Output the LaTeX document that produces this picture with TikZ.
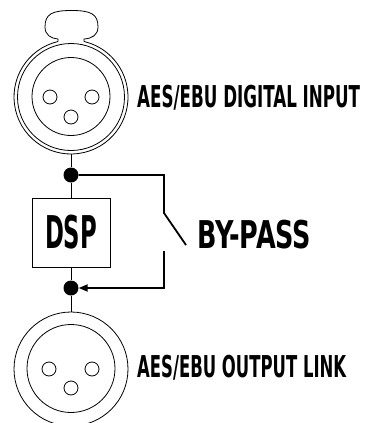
\documentclass[tikz,border=0pt]{standalone}
\usepackage{fontspec}
\usetikzlibrary{arrows.meta}
\newfontfamily\condfont{DejaVu Sans Condensed}
\newcommand{\heavy}[3]{\resizebox{#1}{\height}{\fontsize{#2}{#2}\selectfont #3}}
\begin{document}
\begin{tikzpicture}[x=1bp,y=-1bp,
  thinline/.style={line width=0.8bp},
  bypass/.style={line width=1.8bp},
  dot/.style={circle,fill=black,inner sep=0pt,minimum size=15bp},
  pin/.style={circle,draw,line width=0.8bp,inner sep=0pt,minimum size=14bp},
  ring/.style={circle,draw,line width=0.8bp,inner sep=0pt},
  lbl/.style={anchor=base west,inner sep=0pt,font=\condfont\bfseries}]
\useasboundingbox (0,0) rectangle (365,423);

% ---- input connector (XLR with latch)
\node[circle,inner sep=0pt,minimum size=114bp] (inC) at (71,97) {};
\draw[thinline] (58,41.5) arc[start angle=103.2, end angle=436.8, radius=57bp];
\draw[thinline] (58,41.5) -- (58,39)
  .. controls (51,38.5) and (45,35) .. (45,27)
  .. controls (45,14) and (52,10.5) .. (71.5,10.5)
  .. controls (91,10.5) and (98,14) .. (98,27)
  .. controls (98,35) and (92,38.5) .. (84,39) -- (84,41.5);
\node[ring,minimum size=107bp] (inR) at (71,97) {};
\node[ring,minimum size=78bp] (inI) at (71,96.5) {};
\node[pin] (inP1) at (50,97) {};
\node[pin] (inP2) at (92,97) {};
\node[pin] (inP3) at (71,117) {};

% ---- output connector
\node[ring,minimum size=114bp] (outC) at (71,369) {};
\node[ring,minimum size=88bp] (outI) at (71,368.5) {};
\node[pin] (outP1) at (49,369) {};
\node[pin] (outP2) at (92,369) {};
\node[pin] (outP3) at (71,388) {};

% ---- signal path
\node[dot] (D1) at (71,175) {};
\node[dot] (D2) at (71,288) {};
\node[draw,thinline,inner sep=0pt,minimum width=78bp,minimum height=69bp] (dsp) at (71,232.5)
  {\condfont\bfseries\heavy{52bp}{45.3}{DSP}};
\draw[thinline] (inC.south) -- (D1);
\draw[thinline] (D1) -- (dsp.north);
\draw[thinline] (dsp.south) -- (D2);
\draw[thinline] (D2) -- (outC.north);

% ---- bypass switch
\coordinate (sw1) at (164,175);
\coordinate (sw2) at (164,213);
\coordinate (blade) at (186,245);
\coordinate (sw3) at (164,251);
\coordinate (sw4) at (164,288);
\draw[bypass] (D1) -- (sw1) -- (sw2) -- (blade);
\draw[bypass,-{Triangle[length=9bp,width=7bp]}] (sw3) -- (sw4) -- (D2);

% ---- labels
\node[lbl] (lin) at (137,107) {\heavy{223bp}{30.2}{AES/EBU DIGITAL INPUT}};
\node[lbl] (lby) at (197,248) {\heavy{114bp}{38.4}{BY-PASS}};
\node[lbl] (lout) at (137,377) {\heavy{209bp}{30.2}{AES/EBU OUTPUT LINK}};
\end{tikzpicture}
\end{document}
